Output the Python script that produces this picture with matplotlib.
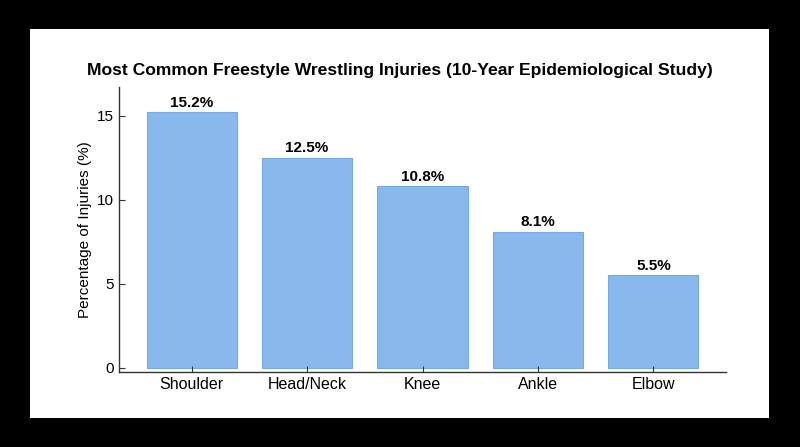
import matplotlib.pyplot as plt
from matplotlib.patches import Rectangle

plt.rcParams['font.family'] = ['Liberation Sans', 'DejaVu Sans']

injuries = ['Shoulder', 'Head/Neck', 'Knee', 'Ankle', 'Elbow']
percentages = [15.2, 12.5, 10.8, 8.1, 5.5]
yticks = [0, 5, 10, 15]

fig = plt.figure(figsize=(8, 4.47), dpi=100, facecolor='black')
# white panel inside the black frame
fig.patches.append(Rectangle((30 / 800, 1 - 418 / 447), 739 / 800, 389 / 447,
                             transform=fig.transFigure, facecolor='white',
                             edgecolor='none', zorder=-1))

ax = fig.add_axes([119 / 800, 1 - 372 / 447, 607 / 800, 285 / 447])
ax.set_facecolor('none')

bars = ax.bar(injuries, percentages, width=0.78, color='#88b8ec',
              edgecolor='#78a8e0', linewidth=0.8)

for b, v in zip(bars, percentages):
    ax.text(b.get_x() + b.get_width() / 2, v + 0.15, f'{v}%',
            ha='center', va='bottom', fontsize=11, fontweight='bold')

ax.set_ylim(-0.25, 16.7)
ax.set_yticks(yticks)
ax.set_ylabel('Percentage of Injuries (%)', fontsize=11)
fig.text(0.5, 1 - 71 / 447,
         'Most Common Freestyle Wrestling Injuries (10-Year Epidemiological Study)',
         ha='center', va='center', fontsize=12.6, fontweight='bold')

for s in ['top', 'right']:
    ax.spines[s].set_visible(False)
for s in ['left', 'bottom']:
    ax.spines[s].set_color('#333333')
    ax.spines[s].set_linewidth(1.0)
ax.tick_params(direction='in', length=4, labelsize=11, colors='#333333',
               labelcolor='black')
ax.tick_params(axis='x', labelsize=11.5)

fig.savefig('out.png', dpi=100, facecolor='black')
